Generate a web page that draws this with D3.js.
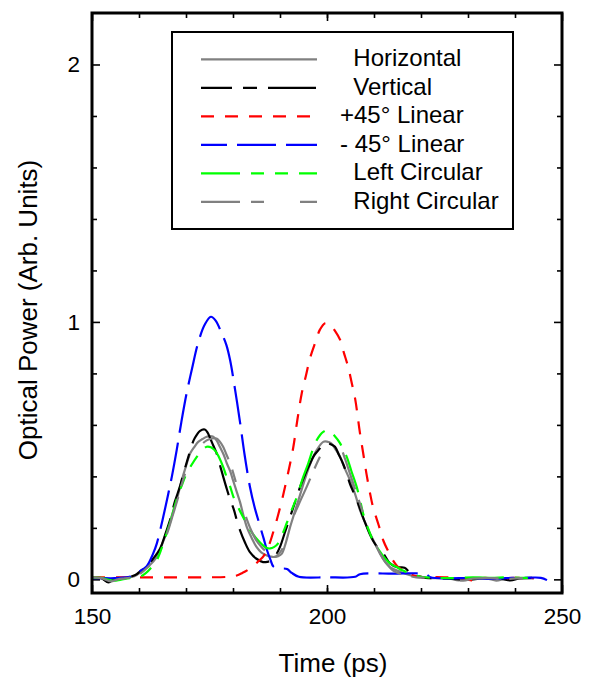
<!DOCTYPE html>
<html>
<head>
<meta charset="utf-8">
<script src="https://cdn.jsdelivr.net/npm/d3@7"></script>
<style>
  body { margin: 0; background: #fff; }
  svg { display: block; font-family: "Liberation Sans", Arial, sans-serif; }
  .legend text { white-space: pre; }
</style>
</head>
<body>
<svg width="592" height="679"></svg>
<script>
// series: [time (ps), optical power]
const horizontal = [[150,0.008],[152,0.005],[153.5,-0.01],[155,0.005],[157,0.005],[159,0.012],[160.5,0.03],[162,0.05],[163.8,0.087],[165,0.14],[166.2,0.2],[167.2,0.26],[168.2,0.32],[169.1,0.385],[170,0.44],[170.9,0.49],[171.8,0.515],[172.6,0.534],[173.5,0.545],[174.4,0.554],[175.1,0.556],[175.8,0.554],[176.5,0.54],[177.2,0.515],[178,0.485],[178.7,0.45],[179.4,0.42],[180,0.385],[180.8,0.34],[181.5,0.3],[182.2,0.25],[183,0.2],[184,0.16],[185,0.126],[186,0.105],[187.2,0.093],[188.1,0.088],[188.9,0.087],[189.6,0.09],[190.4,0.1],[191.2,0.14],[192.1,0.2],[193.2,0.265],[194.3,0.33],[195.5,0.4],[196.7,0.46],[197.9,0.505],[199.2,0.534],[200,0.535],[200.9,0.528],[201.8,0.505],[202.8,0.476],[203.8,0.43],[204.9,0.385],[206,0.33],[207,0.27],[208,0.225],[209.1,0.18],[210.2,0.14],[211.3,0.1],[212.3,0.07],[213.4,0.048],[214.5,0.037],[215.5,0.03],[217,0.02],[219,0.01],[222,0.005],[226,0.003],[228,-0.004],[230,0.003],[234,0.004],[236,-0.005],[238,0.003],[241,0.005],[244,0.004]];
const vertical = [[150,0.005],[152,0.005],[153.5,-0.012],[155,0.004],[157,0.005],[158.5,0.012],[159.5,0.02],[160.5,0.035],[161.6,0.05],[163,0.08],[164.5,0.12],[165.5,0.17],[166.6,0.23],[167.6,0.3],[168.7,0.36],[169.6,0.42],[170.5,0.476],[171.2,0.52],[171.9,0.55],[173,0.577],[174,0.582],[174.6,0.57],[175.1,0.55],[175.8,0.52],[176.5,0.49],[177.2,0.445],[177.9,0.4],[178.7,0.35],[179.4,0.31],[180.2,0.27],[180.8,0.23],[181.5,0.19],[182.5,0.145],[183.6,0.106],[185,0.08],[186.4,0.067],[187.3,0.068],[188.2,0.074],[189,0.09],[190,0.126],[191,0.18],[192.1,0.24],[193.2,0.3],[194.3,0.36],[195.4,0.41],[196.4,0.45],[197.2,0.48],[198.1,0.5],[199,0.52],[199.9,0.53],[200.8,0.525],[201.7,0.515],[202.5,0.485],[203.4,0.45],[204.2,0.41],[204.9,0.37],[205.6,0.34],[206.3,0.31],[207.2,0.265],[208.1,0.22],[209,0.18],[209.8,0.15],[210.9,0.12],[212,0.1],[213.4,0.062],[215,0.047],[216.5,0.045],[217.7,0.025],[219,0.015],[221,0.006],[226,0.003],[230,-0.002],[233,0.004],[237,0.002],[239,-0.004],[241,0.004],[244,0.006]];
const plus45 = [[150,0.008],[155,0.008],[160,0.008],[165,0.008],[170,0.008],[175,0.008],[179,0.01],[180.8,0.015],[182,0.025],[183,0.035],[184.5,0.055],[185.7,0.075],[186.5,0.09],[187.5,0.125],[188.5,0.18],[189.6,0.25],[190.7,0.33],[191.8,0.42],[192.8,0.51],[193.7,0.62],[194.6,0.72],[195.5,0.79],[196.4,0.86],[197.5,0.92],[198.5,0.97],[199.6,0.995],[200.6,0.99],[201.7,0.965],[202.8,0.93],[203.6,0.88],[204.5,0.825],[205.3,0.76],[206,0.7],[207,0.57],[207.7,0.49],[208.4,0.41],[209.1,0.34],[209.8,0.28],[211,0.21],[212,0.15],[213,0.11],[214,0.075],[215,0.05],[216.2,0.035],[218,0.018],[220,0.01],[225,0.008],[229,0.003],[231,-0.004],[233,0.005],[237,0.003],[240,0.006],[244,0.005]];
const minus45 = [[150,0.005],[152,0.005],[154,0.004],[156,0.006],[158,0.01],[160,0.03],[161.6,0.05],[163,0.1],[163.8,0.14],[165,0.23],[166.2,0.33],[167,0.4],[168,0.5],[169,0.61],[170.1,0.72],[171.3,0.82],[172.6,0.92],[174,0.99],[175.3,1.02],[176.3,1.005],[177.5,0.96],[178.6,0.91],[179.4,0.85],[180.5,0.73],[181.5,0.61],[182.5,0.48],[183.6,0.36],[184.6,0.28],[185.7,0.21],[186.5,0.16],[187.2,0.115],[188,0.075],[188.6,0.05],[190,0.043],[191.5,0.04],[192.5,0.025],[194,0.01],[200,0.008],[206,0.01],[207,0.02],[214,0.022],[221,0.02],[222,0.008],[226,0.004],[230,0.005],[234,0.002],[238,0.005],[242,0.006],[245.5,0.006],[246.8,-0.003]];
const leftCirc = [[150,0.008],[152,0.006],[154.5,-0.005],[156,-0.002],[158,0.005],[160.2,0.01],[161.5,0.025],[162.8,0.05],[163.8,0.075],[164.8,0.12],[165.9,0.18],[167,0.245],[168,0.31],[169,0.36],[170.1,0.41],[171.2,0.445],[172.3,0.476],[173.4,0.5],[174.4,0.515],[175.3,0.513],[176.2,0.5],[177,0.475],[177.9,0.437],[178.6,0.4],[179.4,0.36],[180.2,0.315],[181.1,0.28],[182.2,0.24],[183.2,0.205],[184.3,0.175],[185.4,0.15],[186.5,0.13],[187.2,0.122],[187.9,0.12],[188.7,0.125],[189.6,0.14],[190.5,0.175],[191.4,0.217],[192.5,0.27],[193.6,0.32],[194.8,0.39],[196,0.45],[196.9,0.5],[197.8,0.54],[198.5,0.56],[199.2,0.573],[200.3,0.58],[201.5,0.56],[202.8,0.528],[203.5,0.5],[204.2,0.476],[205.2,0.42],[206.3,0.36],[207,0.31],[207.7,0.255],[208.7,0.2],[209.8,0.15],[211.2,0.11],[212.7,0.074],[213.7,0.058],[214.8,0.048],[216,0.035],[217,0.028],[218.5,0.018],[220,0.01],[223,0.006],[227,0.005],[231,0.008],[235,0.006],[238,0.008],[241,0.006],[243,0.006]];
const rightCirc = [[150,0.008],[152,0.005],[154,-0.008],[155.5,0],[157,0.004],[159,0.01],[160.5,0.025],[162,0.05],[163.8,0.08],[165,0.13],[166.2,0.19],[167.2,0.25],[168.2,0.31],[169.1,0.37],[170.1,0.425],[171.2,0.465],[172.3,0.5],[173.4,0.525],[174.4,0.54],[175.5,0.547],[176.5,0.547],[177.2,0.535],[177.9,0.515],[178.6,0.485],[179.4,0.45],[180.1,0.41],[180.8,0.365],[182,0.29],[183,0.23],[184,0.185],[185,0.15],[186.1,0.125],[187.2,0.106],[188.1,0.094],[188.9,0.087],[190,0.105],[191.1,0.14],[192,0.19],[192.8,0.24],[194.2,0.3],[195.7,0.36],[197.1,0.42],[198.5,0.476],[199.5,0.51],[200.6,0.534],[201.7,0.53],[202.8,0.515],[203.8,0.47],[204.9,0.41],[206,0.35],[207,0.295],[208,0.24],[209.1,0.19],[210.2,0.14],[211.3,0.1],[212.7,0.06],[214,0.035],[215.5,0.022],[217,0.015],[219,0.008],[222,0.005],[224,-0.004],[226,0.004],[229,-0.005],[231,0.003],[235,0.005],[238,0.002],[242,0.005],[244,0.004]];

const seriesNames = ["  Horizontal", "  Vertical", "+45\u00B0 Linear", "- 45\u00B0 Linear", "  Left Circular", "  Right Circular"];
const seriesData = [horizontal, vertical, plus45, minus45, leftCirc, rightCirc];
const seriesColors = ["#808080", "#000000", "#ff0000", "#0000ff", "#00ff00", "#808080"];
const seriesDash = ["none", "31,11,14,11,48,11", "13,11", "39,10", "39,11,13,11,13,11", "39,11,13,36"];

const xMajor = [150, 200, 250];
const xMinor = d3.range(160, 250, 10);
const yMajor = [0, 1, 2];
const yMinor = [0.2, 0.4, 0.6, 0.8, 1.2, 1.4, 1.6, 1.8];

const svg = d3.select("svg");
const plotLeft = 92, plotRight = 562, plotTop = 13, plotBottom = 593;

const x = d3.scaleLinear().domain([150, 250]).range([plotLeft, plotRight]);
const y = d3.scaleLinear().domain([-0.053, 2.2]).range([plotBottom, plotTop]);

// minor ticks, all four sides, pointing inward
svg.append("g").attr("transform", `translate(0,${plotBottom})`)
    .call(d3.axisBottom(x).tickValues(xMinor).tickSize(-5).tickFormat(""));
svg.append("g").attr("transform", `translate(0,${plotTop})`)
    .call(d3.axisTop(x).tickValues(xMinor).tickSize(-5).tickFormat(""));
svg.append("g").attr("transform", `translate(${plotLeft},0)`)
    .call(d3.axisLeft(y).tickValues(yMinor).tickSize(-5).tickFormat(""));
svg.append("g").attr("transform", `translate(${plotRight},0)`)
    .call(d3.axisRight(y).tickValues(yMinor).tickSize(-5).tickFormat(""));

// major ticks with labels
svg.append("g").attr("class", "xaxis").attr("transform", `translate(0,${plotBottom})`)
    .call(d3.axisBottom(x).tickValues(xMajor).tickSize(-8).tickPadding(15).tickFormat(d3.format("d")));
svg.append("g").attr("transform", `translate(0,${plotTop})`)
    .call(d3.axisTop(x).tickValues(xMajor).tickSize(-8).tickFormat(""));
svg.append("g").attr("class", "yaxis").attr("transform", `translate(${plotLeft},0)`)
    .call(d3.axisLeft(y).tickValues(yMajor).tickSize(-8).tickPadding(12).tickFormat(d3.format("d")));
svg.append("g").attr("transform", `translate(${plotRight},0)`)
    .call(d3.axisRight(y).tickValues(yMajor).tickSize(-8).tickFormat(""));

svg.selectAll(".domain").remove();
svg.selectAll(".tick line").attr("stroke", "#000").attr("stroke-width", 1.6);
svg.selectAll(".xaxis text, .yaxis text")
    .attr("fill", "#000")
    .style("font-size", "22.5px")
    .style("font-family", "'Liberation Sans', Arial, sans-serif");

// curves
const line = d3.line()
    .x(d => x(d[0]))
    .y(d => y(d[1]))
    .curve(d3.curveCatmullRom.alpha(0.5));

const plot = svg.append("g");
seriesData.forEach((data, i) => {
    plot.append("path")
        .datum(data)
        .attr("d", line)
        .attr("fill", "none")
        .attr("stroke", seriesColors[i])
        .attr("stroke-width", 2.2)
        .attr("stroke-dasharray", seriesDash[i]);
});

// frame
svg.append("rect")
    .attr("x", plotLeft).attr("y", plotTop)
    .attr("width", plotRight - plotLeft).attr("height", plotBottom - plotTop)
    .attr("fill", "none").attr("stroke", "#000").attr("stroke-width", 3);

// axis titles
svg.append("text")
    .attr("x", 333).attr("y", 672)
    .attr("text-anchor", "middle")
    .style("font-size", "26px")
    .text("Time (ps)");
svg.append("text")
    .attr("transform", "translate(37,310) rotate(-90)")
    .attr("text-anchor", "middle")
    .style("font-size", "26px")
    .text("Optical Power (Arb. Units)");

// legend
const legend = svg.append("g").attr("class", "legend");
legend.append("rect")
    .attr("x", 172).attr("y", 32).attr("width", 341).attr("height", 197)
    .attr("fill", "#fff").attr("stroke", "#000").attr("stroke-width", 2);
seriesNames.forEach((name, i) => {
    const ly = 59.3 + i * 28.5;
    legend.append("line")
        .attr("x1", 201).attr("x2", 317)
        .attr("y1", ly).attr("y2", ly)
        .attr("stroke", seriesColors[i])
        .attr("stroke-width", 2.2)
        .attr("stroke-dasharray", seriesDash[i])
        .attr("stroke-dashoffset", i === 3 ? 13 : 0);
    legend.append("text")
        .attr("x", 340).attr("y", ly + 7)
        .style("font-size", "24px")
        .text(name);
});
</script>
</body>
</html>
